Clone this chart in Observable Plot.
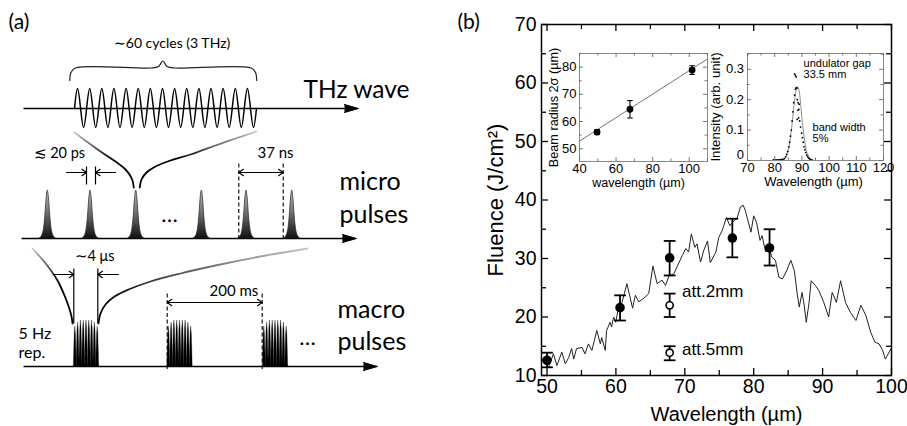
<!DOCTYPE html>
<html><head><meta charset="utf-8">
<script src="https://cdn.jsdelivr.net/npm/d3@7"></script>
<script src="https://cdn.jsdelivr.net/npm/@observablehq/plot@0.6"></script>
<style>
html,body{margin:0;padding:0;background:#fff;}
#fig{position:relative;width:907px;height:426px;overflow:hidden;background:#fff;}
</style></head><body><div id="fig"></div>
<script>
const FONT_B = "'Liberation Sans', Arial, sans-serif";
const FONT_A = "Lato, 'Open Sans', sans-serif";

// ================= Panel (b) main chart data =================
const spectrumWl = [49.30,49.71,50.22,50.93,51.44,52.15,52.66,53.16,53.57,53.88,54.28,55.10,55.50,56.01,56.52,57.23,57.74,57.94,58.45,58.65,59.16,59.37,59.67,59.98,60.38,60.89,61.60,62.42,62.82,63.33,64.04,64.76,65.37,65.98,66.69,67.20,67.70,68.41,69.63,70.14,70.55,70.95,71.46,71.77,72.28,72.79,73.30,73.70,74.51,74.92,75.43,76.04,76.55,77.16,77.56,78.07,78.48,78.78,79.29,79.60,80.00,80.41,80.92,81.22,81.73,82.24,82.65,83.15,83.66,84.17,84.78,85.39,85.90,86.31,86.61,87.02,87.33,87.63,88.04,88.34,88.95,89.46,90.17,90.88,91.39,92.00,92.61,93.32,94.03,94.84,95.55,96.27,96.98,97.59,98.20,98.71,99.11,99.93];
const spectrumFluence = [12.8,12.0,11.4,13.7,11.7,14.0,12.0,13.1,14.6,12.8,14.6,14.8,13.7,15.4,14.3,17.7,15.4,16.5,14.3,17.7,19.1,18.3,20.0,19.1,21.7,22.5,25.7,21.5,23.7,22.6,23.2,24.0,28.7,25.7,26.3,25.4,27.0,27.4,30.5,31.7,31.1,34.2,31.9,32.5,29.4,31.5,33.0,29.3,31.1,33.6,34.8,37.0,35.6,36.5,36.8,38.8,39.1,38.2,35.9,34.5,37.3,36.2,33.1,33.9,31.1,31.7,30.2,29.7,26.8,26.5,27.9,29.7,27.9,24.0,21.7,24.2,22.0,19.1,22.5,26.2,25.4,24.5,22.5,20.0,24.2,22.5,26.2,22.5,20.8,19.4,22.0,20.3,17.4,15.7,15.4,14.3,12.8,14.6];

const measWl = [50.0, 60.6, 67.8, 76.9, 82.3];
const measFluence = [12.6, 21.6, 30.1, 33.5, 31.8];
const measLow = [11.4, 19.4, 27.1, 30.2, 28.8];
const measHigh = [13.9, 23.7, 33.0, 36.8, 35.0];

const attWl = [67.8, 67.8];
const attFluence = [22.0, 13.9];
const attLow = [20.0, 12.6];
const attHigh = [24.0, 15.0];
const attNames = ["att.2mm", "att.5mm"];

const mainXMajor = [50, 60, 70, 80, 90, 100];
const mainXMinor = [55, 65, 75, 85, 95];
const mainYMajor = [10, 20, 30, 40, 50, 60, 70];
const mainYMinor = [15, 25, 35, 45, 55, 65];

// ================= Inset 1 (beam radius) =================
const beamWl = [49.6, 67.6, 101.6];
const beamRadius = [56.1, 64.5, 78.9];
const beamErr = [0.9, 3.2, 1.6];
const beamFitWl = [40, 110];
const beamFitR = [52.8, 83.0];
const in1XMajor = [40, 60, 80, 100];
const in1XMinor = [50, 70, 90, 110];
const in1YMajor = [50, 60, 70, 80];
const in1YMinor = [55, 65, 75, 85];

// ================= Inset 2 (spectrum) =================
const specDotWl = [79.5,80.0,80.5,81.0,81.5,82.0,82.5,83.0,83.5,84.0,84.4,84.8,85.2,85.5,85.8,86.1,86.4,86.7,87.0,87.3,87.6,87.9,88.2,87.3,87.6,87.9,88.3,88.6,88.5,88.9,88.3,88.8,89.2,89.0,89.5,89.9,90.2,90.5,90.8,91.1,91.4,91.8,92.1,92.5,92.9,93.3,93.7];
const specDotI = [0.002,0.002,0.002,0.002,0.002,0.003,0.003,0.004,0.006,0.012,0.02,0.03,0.045,0.06,0.08,0.10,0.13,0.16,0.19,0.215,0.235,0.24,0.238,0.285,0.28,0.275,0.20,0.19,0.165,0.168,0.135,0.14,0.13,0.185,0.11,0.09,0.075,0.06,0.045,0.035,0.026,0.018,0.012,0.008,0.005,0.003,0.002];
const specFitWl = [82, 83, 84, 85, 86, 86.5, 87, 87.5, 88, 88.5, 89, 89.5, 90, 90.5, 91, 91.5, 92, 93, 94];
const specFitI = [0, 0.002, 0.01, 0.035, 0.09, 0.13, 0.175, 0.21, 0.235, 0.242, 0.228, 0.19, 0.14, 0.1, 0.065, 0.04, 0.022, 0.005, 0];
const in2XMajor = [70, 80, 90, 100, 110, 120];
const in2XMinor = [75, 85, 95, 105, 115];
const in2YMajor = [0, 0.1, 0.2, 0.3];
const in2YTickLabels = ["0", "0.1", "0.2", "0.3"];
const in2YMinor = [0.05, 0.15, 0.25, 0.35];

// ================= Panel (a) schematic (drawing units = pixels) =================
const axisLevels = [108, 238, 366];
const axisStarts = [23, 21, 23];
const axisTips = [358, 356, 377];
const waveX = [74,77.0,83.1,89.2,95.2,101.3,107.4,113.4,119.5,125.6,131.6,137.7,143.8,149.8,155.9,162.0,168.0,174.1,180.2,186.2,192.3,198.4,204.4,210.5,216.6,222.6,228.7,234.8,240.8,246.9,253.0,256];
const waveY = [108,88,127,88,127,88,127,88,127,88,127,88,127,88,127,88,127,88,127,88,127,88,127,88,127,88,127,88,127,88,127,108];
const braceX = [69.3,70.5,75,150,158,162.3,166.6,174.6,250.6,255,256.2];
const braceY = [80,72,67.5,67.5,66,60.5,66,67.5,67.5,72,80];
const microPulseX = [47.3, 90, 135.7, 201.3, 246, 291.7];
const macroBurstX = [86, 179.5, 275];
const zoomUpperLeft = [[74,132],[100,151],[115,161],[124,168],[129,174],[132,180],[133.3,187]];
const zoomUpperRight = [[139.3,187],[141,179],[146,172],[155,166],[170,160],[190,154],[215,145],[235,138],[256,131]];
const zoomLowerLeft = [[32,248],[46,264],[57,280],[64,295],[68.5,307],[71,316],[72,323]];
const zoomLowerRight = [[98,323],[100,313],[105,304],[114,296],[128,289],[150,281],[180,273],[215,265],[260,256],[307,248]];

// ---------- derived tables ----------
const spectrum = spectrumWl.map((x, i) => ({x, y: spectrumFluence[i]}));
const meas = measWl.map((x, i) => ({x, y: measFluence[i], lo: measLow[i], hi: measHigh[i]}));
const att = attWl.map((x, i) => ({x, y: attFluence[i], lo: attLow[i], hi: attHigh[i], name: attNames[i]}));
const beam = beamWl.map((x, i) => ({x, y: beamRadius[i], lo: beamRadius[i] - beamErr[i], hi: beamRadius[i] + beamErr[i]}));
const beamFit = beamFitWl.map((x, i) => ({x, y: beamFitR[i]}));
const specDots = specDotWl.map((x, i) => ({x, y: specDotI[i]}));
const specFit = specFitWl.map((x, i) => ({x, y: specFitI[i]}));

const axesA = axisLevels.map((y, i) => ({y, x1: axisStarts[i], x2: axisTips[i] - 6}));
const arrowHeads = axisLevels.flatMap((y, i) => [
  {id: i, x: axisTips[i] - 14, y: y - 4}, {id: i, x: axisTips[i], y}, {id: i, x: axisTips[i] - 14, y: y + 4}
]);
const wave = waveX.map((x, i) => ({x, y: waveY[i]}));
const brace = braceX.map((x, i) => ({x, y: braceY[i]}));
const pulseShape = [[-8,0],[-6,2],[-4.5,6],[-3.5,12],[-2.6,21],[-1.8,32],[-1,42],[0,48],[1,42],[1.8,32],[2.6,21],[3.5,12],[4.5,6],[6,2],[8,0]];
const microPulses = microPulseX.flatMap((c, id) => pulseShape.map(([dx, h]) => ({id, x: c + dx, y: 238 - h})));
const spikeEnvelope = [40, 44, 46, 46, 46, 46, 46, 44, 40];
const spikeShape = [[-1.5,0],[-1.1,0.4],[-0.6,0.82],[0,1],[0.6,0.82],[1.1,0.4],[1.5,0]];
const macroSpikes = macroBurstX.flatMap((c, b) => spikeEnvelope.flatMap((hmax, k) =>
  spikeShape.map(([dx, f]) => ({id: b * 20 + k, x: c + (k - 4) * 2.8 + dx, y: 366 - hmax * f}))));
const toPts = (arr) => arr.map(([x, y]) => ({x, y}));

const fig = document.getElementById("fig");
const pos = (l, t) => ({position: "absolute", left: l + "px", top: t + "px", background: "transparent", overflow: "visible"});

function frameTicks(xMaj, xMin, yMaj, yMin, w, h, maj, mn, stroke, sw) {
  return [
    Plot.ruleX(xMaj, {x: d => d, insetTop: h - maj, stroke, strokeWidth: sw}),
    Plot.ruleX(xMaj, {x: d => d, insetBottom: h - maj, stroke, strokeWidth: sw}),
    Plot.ruleX(xMin, {x: d => d, insetTop: h - mn, stroke, strokeWidth: sw}),
    Plot.ruleX(xMin, {x: d => d, insetBottom: h - mn, stroke, strokeWidth: sw}),
    Plot.ruleY(yMaj, {y: d => d, insetRight: w - maj, stroke, strokeWidth: sw}),
    Plot.ruleY(yMaj, {y: d => d, insetLeft: w - maj, stroke, strokeWidth: sw}),
    Plot.ruleY(yMin, {y: d => d, insetRight: w - mn, stroke, strokeWidth: sw}),
    Plot.ruleY(yMin, {y: d => d, insetLeft: w - mn, stroke, strokeWidth: sw})
  ];
}

const arrowRows = [172, 172, 172, 172, 274, 274, 302, 302];

// ================= Schematic plot (full width, drawn first) =================
const S = Plot.plot({
  width: 907, height: 426, margin: 0,
  x: {domain: [0, 907], range: [0, 907], axis: null},
  y: {domain: [0, 426], range: [0, 426], axis: null},
  style: pos(0, 0),
  marks: [
    Plot.line(toPts(zoomUpperLeft), {x: "x", y: "y", curve: "catmull-rom", stroke: "url(#gradL)", strokeWidth: 1.8}),
    Plot.line(toPts(zoomUpperRight), {x: "x", y: "y", curve: "catmull-rom", stroke: "url(#gradR)", strokeWidth: 1.8}),
    Plot.line(toPts(zoomLowerLeft), {x: "x", y: "y", curve: "catmull-rom", stroke: "url(#gradL)", strokeWidth: 1.8}),
    Plot.line(toPts(zoomLowerRight), {x: "x", y: "y", curve: "catmull-rom", stroke: "url(#gradR2)", strokeWidth: 1.8}),
    Plot.line(brace, {x: "x", y: "y", curve: "catmull-rom", stroke: "#222", strokeWidth: 1.2}),
    Plot.link(axesA, {x1: "x1", x2: "x2", y1: "y", y2: "y", stroke: "#000", strokeWidth: 1.5}),
    Plot.line(arrowHeads, {x: "x", y: "y", z: "id", fill: "#000", stroke: "#000", strokeWidth: 1}),
    Plot.line(wave, {x: "x", y: "y", curve: "monotone-x", stroke: "#000", strokeWidth: 1.5}),
    Plot.areaY(microPulses, {x: "x", y1: 238, y2: "y", z: "id", curve: "catmull-rom", fill: "url(#gradP)", stroke: "#222", strokeWidth: 0.7}),
    Plot.areaY(macroSpikes, {x: "x", y1: 366, y2: "y", z: "id", fill: "#000", stroke: "#000", strokeWidth: 0.3}),
    Plot.link([238.3, 282.7], {x1: d => d, x2: d => d, y1: 163, y2: 238, stroke: "#000", strokeWidth: 1.1, strokeDasharray: "4,2.5"}),
    Plot.link([166.7, 261.7], {x1: d => d, x2: d => d, y1: 293, y2: 369, stroke: "#000", strokeWidth: 1.1, strokeDasharray: "4,2.5"}),
    Plot.link([86, 95], {x1: d => d, x2: d => d, y1: 166, y2: 184, stroke: "#000", strokeWidth: 1.2}),
    Plot.link([73.3, 97.3], {x1: d => d, x2: d => d, y1: 268, y2: 323, stroke: "#000", strokeWidth: 1.2}),
    Plot.arrow([[66, 86], [115, 95], [260.5, 238.3], [260.5, 282.7], [53, 73.3], [118, 97.3], [214, 166.7], [214, 261.7]], {
      x1: d => d[0], x2: d => d[1],
      y1: (d, i) => arrowRows[i], y2: (d, i) => arrowRows[i],
      headLength: 7, headAngle: 70, stroke: "#000", strokeWidth: 1.2
    }),
    Plot.text(["(a)"], {x: 8, y: 28.5, text: d => d, textAnchor: "start", lineAnchor: "bottom", fontSize: 21, fontFamily: FONT_A}),
    Plot.text(["(b)"], {x: 457, y: 28.5, text: d => d, textAnchor: "start", lineAnchor: "bottom", fontSize: 21, fontFamily: FONT_A}),
    Plot.text(["∼60 cycles (3 THz)"], {x: 171.5, y: 47.5, text: d => d, lineAnchor: "bottom", fontSize: 14, fontFamily: FONT_A}),
    Plot.text(["THz wave"], {x: 303, y: 97.5, text: d => d, textAnchor: "start", lineAnchor: "bottom", fontSize: 24.5, fontFamily: FONT_A}),
    Plot.text(["≲ 20 ps"], {x: 33, y: 157.3, text: d => d, textAnchor: "start", lineAnchor: "bottom", fontSize: 14.5, fontFamily: FONT_A}),
    Plot.text(["37 ns"], {x: 257, y: 157.3, text: d => d, textAnchor: "start", lineAnchor: "bottom", fontSize: 15, fontFamily: FONT_A}),
    Plot.text(["micro"], {x: 339, y: 189.5, text: d => d, textAnchor: "start", lineAnchor: "bottom", fontSize: 25, fontFamily: FONT_A}),
    Plot.text(["pulses"], {x: 339, y: 222, text: d => d, textAnchor: "start", lineAnchor: "bottom", fontSize: 25, fontFamily: FONT_A}),
    Plot.text(["…"], {x: 169, y: 221, text: d => d, lineAnchor: "bottom", fontSize: 22, fontFamily: FONT_A}),
    Plot.text(["∼4 μs"], {x: 74, y: 260.7, text: d => d, textAnchor: "start", lineAnchor: "bottom", fontSize: 14.5, fontFamily: FONT_A}),
    Plot.text(["200 ms"], {x: 209, y: 295.3, text: d => d, textAnchor: "start", lineAnchor: "bottom", fontSize: 15, fontFamily: FONT_A}),
    Plot.text(["macro"], {x: 337, y: 317.5, text: d => d, textAnchor: "start", lineAnchor: "bottom", fontSize: 25, fontFamily: FONT_A}),
    Plot.text(["pulses"], {x: 337, y: 349, text: d => d, textAnchor: "start", lineAnchor: "bottom", fontSize: 25, fontFamily: FONT_A}),
    Plot.text(["…"], {x: 307, y: 344, text: d => d, lineAnchor: "bottom", fontSize: 22, fontFamily: FONT_A}),
    Plot.text(["5 Hz"], {x: 18, y: 338.5, text: d => d, textAnchor: "start", lineAnchor: "bottom", fontSize: 16, fontFamily: FONT_A}),
    Plot.text(["rep."], {x: 18, y: 357.5, text: d => d, textAnchor: "start", lineAnchor: "bottom", fontSize: 16, fontFamily: FONT_A})
  ]
});
const NS = "http://www.w3.org/2000/svg";
const defs = document.createElementNS(NS, "defs");
function grad(id, x1, y1, x2, y2, stops) {
  const g = document.createElementNS(NS, "linearGradient");
  g.setAttribute("id", id);
  g.setAttribute("x1", x1); g.setAttribute("y1", y1); g.setAttribute("x2", x2); g.setAttribute("y2", y2);
  for (const [o, c] of stops) {
    const s = document.createElementNS(NS, "stop");
    s.setAttribute("offset", o); s.setAttribute("stop-color", c);
    g.appendChild(s);
  }
  defs.appendChild(g);
}
grad("gradL", 0, 0, 1, 1, [[0, "#c8c8c8"], [0.55, "#000"], [1, "#000"]]);
grad("gradR", 0, 1, 1, 0, [[0, "#000"], [0.4, "#000"], [1, "#c8c8c8"]]);
grad("gradR2", 0, 1, 1, 0, [[0, "#000"], [0.25, "#111"], [1, "#c8c8c8"]]);
grad("gradP", 0, 0, 0, 1, [[0, "#bdbdbd"], [0.5, "#6a6a6a"], [1, "#111"]]);
S.insertBefore(defs, S.firstChild);
fig.appendChild(S);

// ================= Main chart (b) =================
const MW = 350, MH = 351;
const M = Plot.plot({
  width: 457, height: 426, marginLeft: 91, marginRight: 16, marginTop: 24, marginBottom: 51,
  x: {domain: [49.2, 100], axis: null},
  y: {domain: [10, 70], axis: null},
  style: pos(450, 0),
  marks: [
    Plot.line(spectrum, {x: "x", y: "y", stroke: "#222", strokeWidth: 1}),
    Plot.ruleX(meas, {x: "x", y1: "lo", y2: "hi", stroke: "#000", strokeWidth: 1.8}),
    Plot.link(meas, {x1: d => d.x - 0.85, x2: d => d.x + 0.85, y1: "lo", y2: "lo", stroke: "#000", strokeWidth: 1.8}),
    Plot.link(meas, {x1: d => d.x - 0.85, x2: d => d.x + 0.85, y1: "hi", y2: "hi", stroke: "#000", strokeWidth: 1.8}),
    Plot.ruleX(att, {x: "x", y1: "lo", y2: "hi", stroke: "#000", strokeWidth: 1.8}),
    Plot.link(att, {x1: d => d.x - 0.85, x2: d => d.x + 0.85, y1: "lo", y2: "lo", stroke: "#000", strokeWidth: 1.8}),
    Plot.link(att, {x1: d => d.x - 0.85, x2: d => d.x + 0.85, y1: "hi", y2: "hi", stroke: "#000", strokeWidth: 1.8}),
    Plot.dot(meas, {x: "x", y: "y", r: 4.8, fill: "#000"}),
    Plot.dot(att, {x: "x", y: "y", r: 3.6, fill: "#fff", stroke: "#000", strokeWidth: 1.6}),
    Plot.text(att, {x: 69.6, y: (d, i) => [24.4, 14.4][i], text: "name", textAnchor: "start", fontSize: 17, fontFamily: FONT_B}),
    Plot.frame({stroke: "#000", strokeWidth: 1.5}),
    ...frameTicks(mainXMajor, mainXMinor, mainYMajor, mainYMinor, MW, MH, 7, 5, "#000", 1.3),
    Plot.text(mainXMajor, {x: d => d, frameAnchor: "bottom", dy: 4, lineAnchor: "top", text: d => String(d), fontSize: 19.5, fontFamily: FONT_B}),
    Plot.text(mainYMajor, {y: d => d, frameAnchor: "left", dx: -5, textAnchor: "end", lineAnchor: "middle", text: d => String(d), fontSize: 19.5, fontFamily: FONT_B}),
    Plot.text(["Wavelength (µm)"], {frameAnchor: "bottom", dy: 39.5, dx: 10, textAnchor: "middle", lineAnchor: "middle", text: d => d, fontSize: 20, fontFamily: FONT_B}),
    Plot.text(["Fluence (J/cm²)"], {frameAnchor: "left", dx: -46, rotate: -90, textAnchor: "middle", lineAnchor: "middle", text: d => d, fontSize: 22, fontFamily: FONT_B})
  ]
});
fig.appendChild(M);

// ================= Inset 1 =================
const I1W = 128, I1H = 108;
const I1 = Plot.plot({
  width: I1W + 50, height: I1H + 50, marginLeft: 45, marginRight: 5, marginTop: 15, marginBottom: 35,
  x: {domain: [40, 110], axis: null},
  y: {domain: [45.3, 85], axis: null},
  style: pos(534, 38),
  marks: [
    Plot.frame({fill: "#fff", stroke: "none"}),
    Plot.line(beamFit, {x: "x", y: "y", stroke: "#777", strokeWidth: 1}),
    Plot.ruleX(beam, {x: "x", y1: "lo", y2: "hi", stroke: "#000", strokeWidth: 1.1}),
    Plot.link(beam, {x1: d => d.x - 1.5, x2: d => d.x + 1.5, y1: "lo", y2: "lo", stroke: "#000", strokeWidth: 1.1}),
    Plot.link(beam, {x1: d => d.x - 1.5, x2: d => d.x + 1.5, y1: "hi", y2: "hi", stroke: "#000", strokeWidth: 1.1}),
    Plot.dot(beam, {x: "x", y: "y", r: 3.4, fill: "#000"}),
    Plot.frame({stroke: "#888", strokeWidth: 1}),
    ...frameTicks(in1XMajor, in1XMinor, in1YMajor, in1YMinor, I1W, I1H, 4, 2.5, "#666", 0.9),
    Plot.text(in1XMajor, {x: d => d, frameAnchor: "bottom", dy: 2.5, lineAnchor: "top", text: d => String(d), fontSize: 13, fontFamily: FONT_B}),
    Plot.text(in1YMajor, {y: d => d, frameAnchor: "left", dx: -3, textAnchor: "end", lineAnchor: "middle", text: d => String(d), fontSize: 13, fontFamily: FONT_B}),
    Plot.text(["wavelength (µm)"], {frameAnchor: "bottom", dy: 21, dx: -5, textAnchor: "middle", lineAnchor: "middle", text: d => d, fontSize: 12.5, fontFamily: FONT_B}),
    Plot.text(["Beam radius 2σ (µm)"], {frameAnchor: "left", dx: -26, rotate: -90, textAnchor: "middle", lineAnchor: "middle", text: d => d, fontSize: 12.7, fontFamily: FONT_B})
  ]
});
fig.appendChild(I1);

// ================= Inset 2 =================
const I2W = 136, I2H = 107;
const I2 = Plot.plot({
  width: I2W + 50, height: I2H + 50, marginLeft: 45, marginRight: 5, marginTop: 15, marginBottom: 35,
  x: {domain: [70, 120], axis: null},
  y: {domain: [0, 0.352], axis: null},
  style: pos(702, 38),
  marks: [
    Plot.frame({fill: "#fff", stroke: "none"}),
    Plot.line(specFit, {x: "x", y: "y", curve: "catmull-rom", stroke: "#9a9a9a", strokeWidth: 1.1}),
    Plot.dot(specDots, {x: "x", y: "y", r: 0.9, fill: "#000"}),
    Plot.frame({stroke: "#888", strokeWidth: 1}),
    ...frameTicks(in2XMajor, in2XMinor, in2YMajor, in2YMinor, I2W, I2H, 4, 2.5, "#666", 0.9),
    Plot.text(in2XMajor, {x: d => d, frameAnchor: "bottom", dy: 2.5, lineAnchor: "top", text: d => String(d), fontSize: 13, fontFamily: FONT_B}),
    Plot.text(in2YMajor, {y: d => d, frameAnchor: "left", dx: -3.5, dy: -6, textAnchor: "end", lineAnchor: "middle", text: (d, i) => in2YTickLabels[i], fontSize: 13, fontFamily: FONT_B, filter: d => d === 0}),
    Plot.text(in2YMajor, {y: d => d, frameAnchor: "left", dx: -3.5, textAnchor: "end", lineAnchor: "middle", text: (d, i) => in2YTickLabels[i], fontSize: 13, fontFamily: FONT_B, filter: d => d !== 0}),
    Plot.text(["Wavelength (µm)"], {frameAnchor: "bottom", dy: 21, dx: -2, textAnchor: "middle", lineAnchor: "middle", text: d => d, fontSize: 13, fontFamily: FONT_B}),
    Plot.text(["Intensity (arb. unit)"], {frameAnchor: "left", dx: -32, rotate: -90, textAnchor: "middle", lineAnchor: "middle", text: d => d, fontSize: 13.2, fontFamily: FONT_B}),
    Plot.text(["undulator gap", "33.5 mm"], {x: 90.6, y: (d, i) => [0.318, 0.283][i], text: d => d, textAnchor: "start", fontSize: 11, fontFamily: FONT_B}),
    Plot.text(["band width", "5%"], {x: 93.9, y: (d, i) => [0.109, 0.073][i], text: d => d, textAnchor: "start", fontSize: 11, fontFamily: FONT_B})
  ]
});
fig.appendChild(I2);
</script></body></html>
